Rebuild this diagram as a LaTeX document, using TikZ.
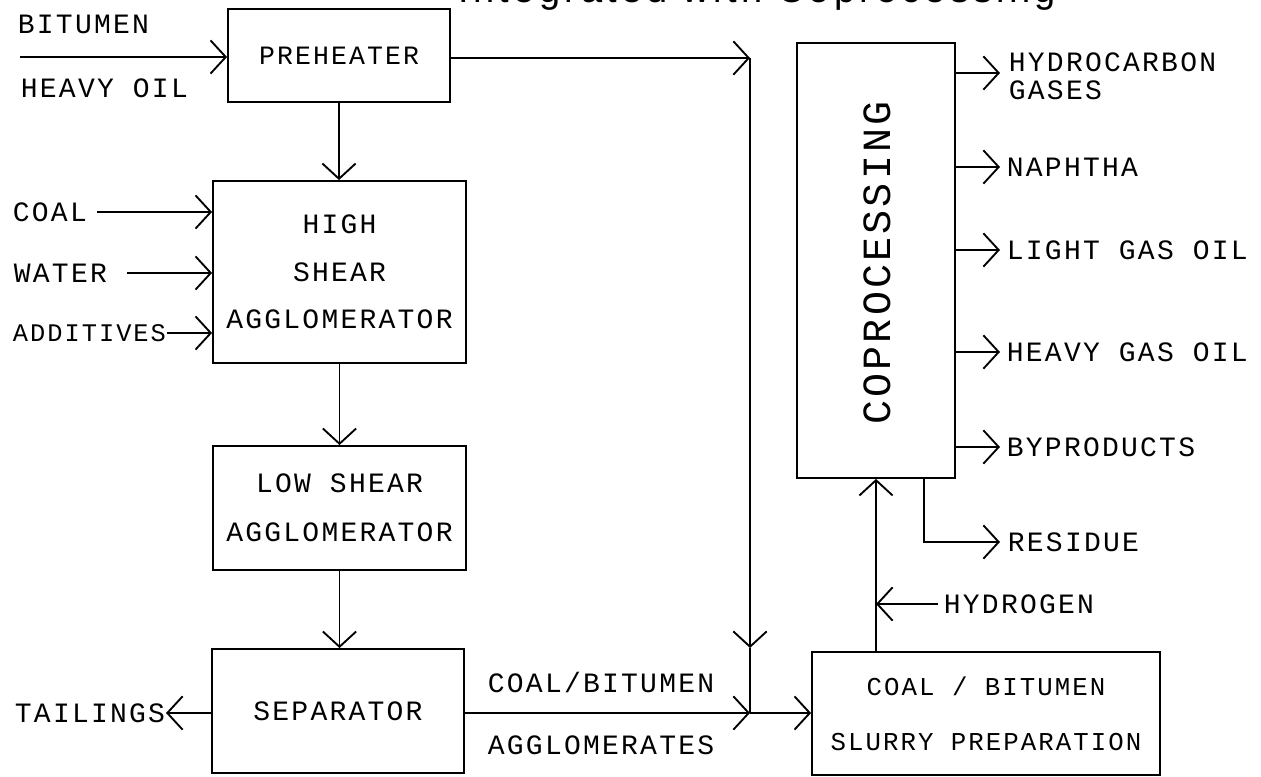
\documentclass[tikz,border=0pt]{standalone}
\usepackage{fontspec}
\setmainfont{Liberation Sans}
\newfontfamily\pfam{Liberation Mono}[LetterSpace=8]
\newfontfamily\tfam{Liberation Sans}[LetterSpace=11]
\newcommand\pf[2][22pt]{\pfam\fontsize{#2}{#1}\selectfont}
\usetikzlibrary{arrows.meta}
\begin{document}
\begin{tikzpicture}[x=0.75pt,y=-0.75pt,line width=1.4pt,
  >={Straight Barb[length=11.5pt,width=25pt]},
  box/.style={draw,inner sep=0pt,align=center,font={\pf{21pt}}},
  lbl/.style={inner sep=0pt,anchor=west,font={\pf{21pt}}}]
\useasboundingbox (0,0) rectangle (1261,777);
\clip (0,0) rectangle (1261,777);

% title (cut off at the top edge)
\node[anchor=base west,inner sep=0pt,font={\tfam\fontsize{28.5pt}{30pt}\selectfont}] (title) at (458,3) {Integrated with Coprocessing};

% boxes
\node[box,minimum width=166.5pt,minimum height=69.75pt,font={\pf{19.85pt}}] (pre) at (339,55.5) {PREHEATER};
\node[box,minimum width=189.75pt,minimum height=136.5pt,font={\pf[35.6pt]{21pt}}] (high) at (339.5,272) {HIGH\\SHEAR\\AGGLOMERATOR};
\node[box,minimum width=189.75pt,minimum height=93pt,font={\pf[36.75pt]{21pt}}] (low) at (339.5,508) {LOW SHEAR\\AGGLOMERATOR};
\node[box,minimum width=189pt,minimum height=93pt] (sep) at (338,711) {SEPARATOR};
\node[box,minimum width=261pt,minimum height=92.25pt,font={\pf[41pt]{19.3pt}}] (slurry) at (986,713.5) {COAL / BITUMEN\\SLURRY PREPARATION};
\node[draw,inner sep=0pt,minimum width=118.5pt,minimum height=326.25pt] (copro) at (876,260.5) {};
\node[rotate=90,inner sep=0pt,font={\pf{30pt}}] (coprotext) at (877,263) {COPROCESSING};

% feed
\node[lbl] (bit) at (17,24) {BITUMEN};
\node[lbl] (hoil) at (20,88) {HEAVY OIL};
\coordinate (feed) at (20,57);
\draw[->] (feed) -- (pre.west |- feed);

\node[lbl] (coal) at (12,212) {COAL};
\draw[->] ([xshift=7pt]coal.east) -- (high.west |- coal.east);
\node[lbl] (water) at (13,273) {WATER};
\draw[->] ([xshift=14pt]water.east) -- (high.west |- water.east);
\node[lbl,font={\pf{19pt}}] (add) at (12,333) {ADDITIVES};
\draw[->] (add.east) -- (high.west |- add.east);

\draw[->] (pre.south) -- (pre.south |- high.north);
\draw[->] (high.south) -- (low.north);
\draw[->] (low.south) -- (low.south |- sep.north);

% tailings
\node[lbl,anchor=east] (tail) at (166,713) {TAILINGS};
\draw[->] (sep.west |- tail.east) -- (tail.east);

% bypass line and agglomerates
\coordinate (c1) at (750,58);
\coordinate (m1) at (750,648);
\coordinate (j1) at (750,713);
\draw[->] (pre.east |- c1) -- (c1);
\draw[->] (c1) -- (m1);
\draw (m1) -- (j1);
\draw[->] (sep.east |- j1) -- (j1);
\draw[->] (j1) -- (slurry.west |- j1);
\node[lbl] (cb) at (487,682) {COAL/BITUMEN};
\node[lbl] (agg) at (487,745) {AGGLOMERATES};

% slurry to coprocessing
\draw[->] (copro.south |- slurry.north) -- (copro.south);
\node[lbl] (h2) at (943,604) {HYDROGEN};
\draw[->] ([xshift=-3.75pt]h2.west) -- (copro.south |- h2.west);

% residue
\node[lbl] (res) at (1007,542) {RESIDUE};
\coordinate (rx) at (924,542);
\draw[->] (copro.south -| rx) -- (rx) -- ([xshift=-5.25pt]res.west);

% products
\node[lbl] (hc) at (1008,62) {HYDROCARBON};
\node[lbl] (gas) at (1008,90) {GASES};
\coordinate (hcy) at (1000,73);
\draw[->] (copro.east |- hcy) -- (hcy);
\node[lbl] (nap) at (1006,167) {NAPHTHA};
\draw[->] (copro.east |- nap.west) -- ([xshift=-4.5pt]nap.west);
\node[lbl] (lgo) at (1006,250) {LIGHT GAS OIL};
\draw[->] (copro.east |- lgo.west) -- ([xshift=-4.5pt]lgo.west);
\node[lbl] (hgo) at (1006,352) {HEAVY GAS OIL};
\draw[->] (copro.east |- hgo.west) -- ([xshift=-4.5pt]hgo.west);
\node[lbl] (byp) at (1006,447) {BYPRODUCTS};
\draw[->] (copro.east |- byp.west) -- ([xshift=-4.5pt]byp.west);
\end{tikzpicture}
\end{document}
